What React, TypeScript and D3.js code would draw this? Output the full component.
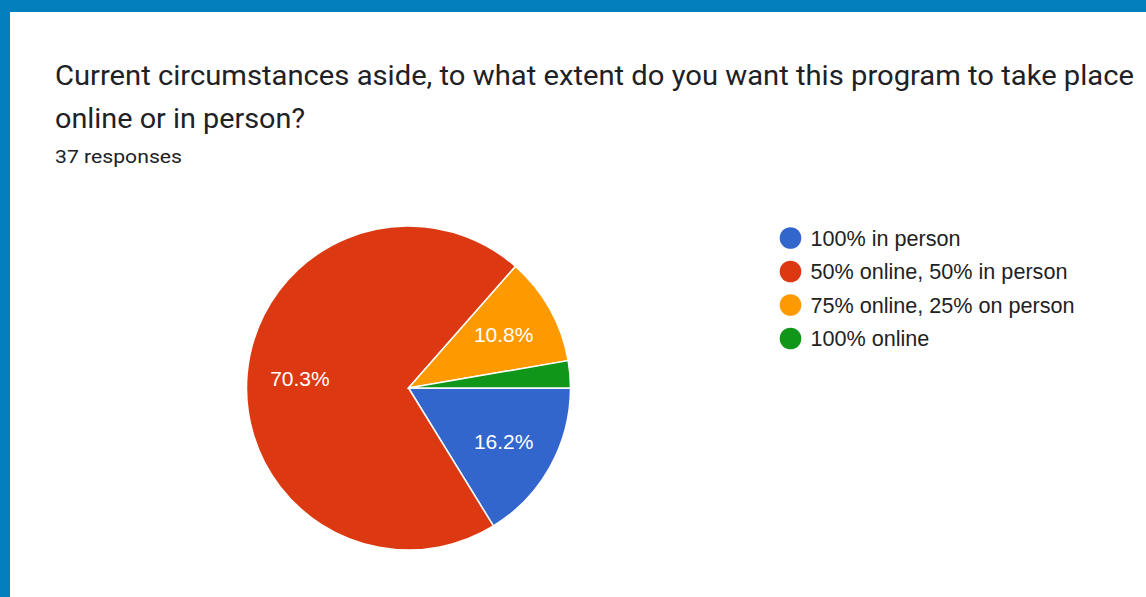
import React from "react";
import * as d3 from "d3";

const titleLines = [
  "Current circumstances aside, to what extent do you want this program to take place",
  "online or in person?",
];
const subtitle = "37 responses";
const categories = [
  "100% in person",
  "50% online, 50% in person",
  "75% online, 25% on person",
  "100% online",
];
const counts = [6, 26, 4, 1];
const colors = ["#3366cc", "#dc3912", "#ff9900", "#109618"];

const W = 1146;
const H = 597;

export default function App() {
  const total = d3.sum(counts);
  const cx = 408.5;
  const cy = 388;
  const r = 162;
  const pie = d3
    .pie<number>()
    .sort(null)
    .startAngle(Math.PI / 2)
    .endAngle(Math.PI / 2 + 2 * Math.PI)
    .value((d) => d);
  const arcs = pie(counts);
  const arc = d3.arc<d3.PieArcDatum<number>>().innerRadius(0).outerRadius(r);
  const labelArc = d3
    .arc<d3.PieArcDatum<number>>()
    .innerRadius(109)
    .outerRadius(109);
  const fmt = (v: number) => ((v / total) * 100).toFixed(1) + "%";

  const legendY = d3
    .scalePoint<number>()
    .domain(d3.range(categories.length))
    .range([238, 338.5]);

  return (
    <svg
      width={W}
      height={H}
      style={{ position: "absolute", left: 0, top: 0 }}
    >
      <rect x={0} y={0} width={W} height={H} fill="#ffffff" />
      <rect x={0} y={0} width={W} height={12} fill="#0280bd" />
      <rect x={0} y={0} width={10} height={H} fill="#0280bd" />
      <g fontFamily="Roboto, 'Open Sans', sans-serif" fill="#202124">
        <text
          x={55}
          y={85}
          fontSize={27}
          textLength={1079}
          lengthAdjust="spacingAndGlyphs"
        >
          {titleLines[0]}
        </text>
        <text
          x={55}
          y={128}
          fontSize={27}
          textLength={250}
          lengthAdjust="spacingAndGlyphs"
        >
          {titleLines[1]}
        </text>
        <text
          x={55}
          y={163}
          fontSize={19}
          textLength={127}
          lengthAdjust="spacingAndGlyphs"
        >
          {subtitle}
        </text>
      </g>
      <g transform={`translate(${cx},${cy})`}>
        {arcs.map((a, i) => (
          <path
            key={i}
            d={arc(a) || ""}
            fill={colors[i]}
            stroke="#ffffff"
            strokeWidth={1.5}
          />
        ))}
        {arcs.map((a, i) => {
          if (a.endAngle - a.startAngle < 0.3) return null;
          const [lx, ly] = labelArc.centroid(a);
          return (
            <text
              key={"l" + i}
              x={lx}
              y={ly}
              dy="0.36em"
              textAnchor="middle"
              fontFamily="'Liberation Sans', Arial, sans-serif"
              fontSize={21}
              fill="#ffffff"
            >
              {fmt(a.data)}
            </text>
          );
        })}
      </g>
      <g fontFamily="'Liberation Sans', Arial, sans-serif" fontSize={21.6}>
        {categories.map((c, i) => (
          <g key={c} transform={`translate(0,${legendY(i)})`}>
            <circle cx={790.5} cy={0} r={10.8} fill={colors[i]} />
            <text x={810.5} y={0} dy="0.36em" fill="#222222">
              {c}
            </text>
          </g>
        ))}
      </g>
    </svg>
  );
}
